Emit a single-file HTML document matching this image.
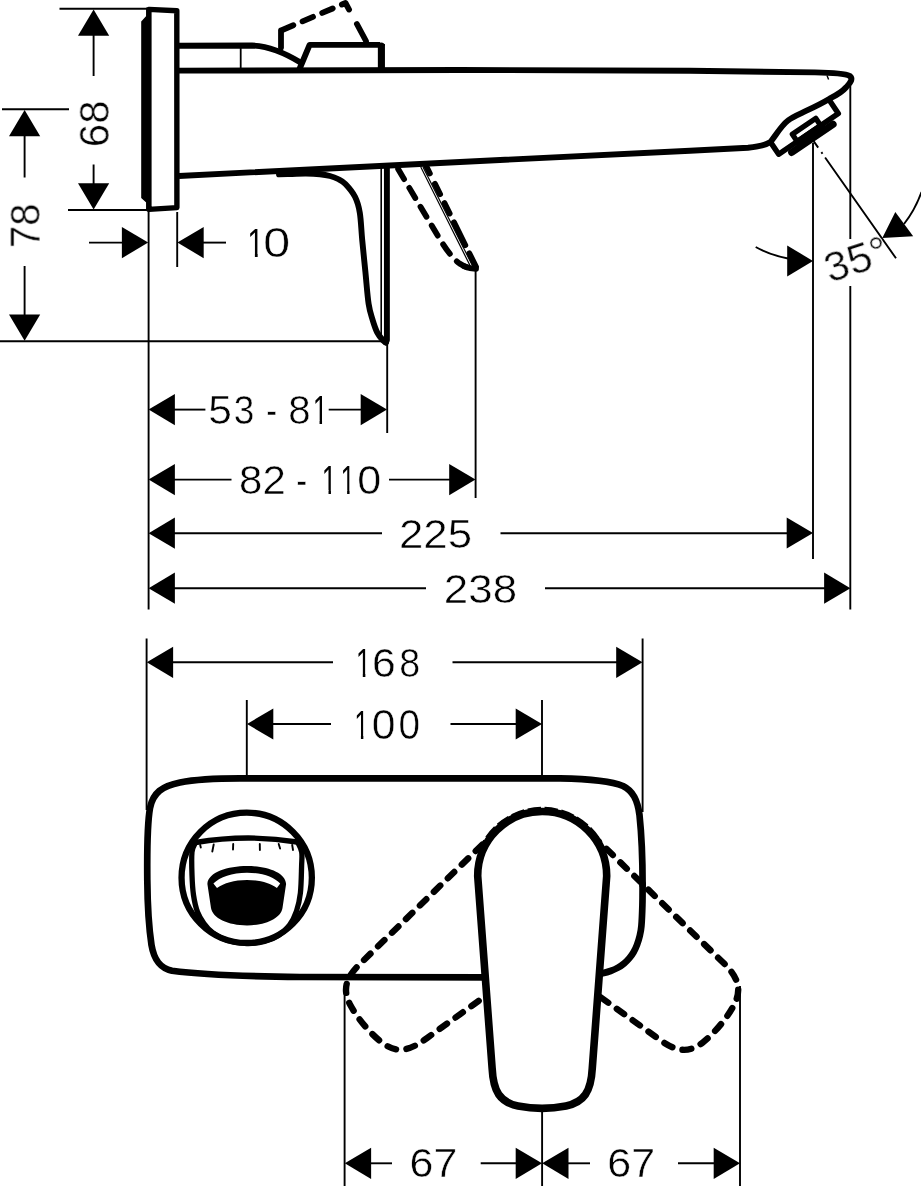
<!DOCTYPE html>
<html><head><meta charset="utf-8"><title>Dimension drawing</title>
<style>
html,body{margin:0;padding:0;background:#fff;}
svg{display:block;}
svg *{fill:none;stroke:#000;}
svg text{font-family:"Liberation Sans",sans-serif;fill:#000;stroke:#fff;}
svg .t{opacity:0.999;}
svg .f{fill:#000;stroke:none;}
svg .w{fill:#fff;stroke:none;}
svg .hw{fill:#fff;stroke:#000;}
</style></head>
<body>
<svg width="921" height="1189" viewBox="0 0 921 1189">
<defs><clipPath id="c1"><polygon points="0,-75 34.2,-75 34.2,2 25.1,2 25.1,-8 0,-8"/></clipPath></defs>
<rect x="0" y="0" width="921" height="1189" style="fill:#fff;stroke:none"/>
<polygon class="f" points="141.2,21.5 146.2,16 146.2,7.5 151,9 151,208 146.2,211 146.2,202.5 141.2,198"/>
<path d="M148.9 9.4 L176.8 10.7 L176.9 207.6 L148.9 209.4 Z" stroke-width="5.4" stroke-linejoin="round"/>
<path d="M179 45.7 L252 45.5 C268 46 285 53 300.5 62.5" stroke-width="5.9" />
<line x1="240.7" y1="47" x2="240.7" y2="69" stroke-width="1.8" />
<path d="M179 70.6 L460 70 L690 70.8 L815 72.4 C832 72.8 845 73.6 849.5 75.8 C853.5 78.5 850.5 83 846.4 87 C843 91 836 95.5 829.6 98.7 C820 104.5 810 109 802 112.8 C795 116 791 118 788 120.5 C782 125 778 132 770.5 142 C765 145.5 757 147 748 147.7 L690 150.7 L460 162 L250 172.4 L179 176" stroke-width="5.9" stroke-linejoin="round"/>
<line x1="827" y1="75.5" x2="828.6" y2="79.5" stroke-width="1.4" />
<path d="M299.5 69 L309.6 44.9 L380 44.9" stroke-width="5.9" stroke-linejoin="round"/>
<path d="M381.4 44 L381.4 70" stroke-width="7.1" />
<path d="M377.8 45 Q378 42.4 381 42.4 Q384.9 42.4 384.95 46 Z" stroke-width="0.1" class="f"/>
<path d="M281 47.5 L281 30.5" stroke-width="5.8" stroke-linecap="round"/>
<path d="M281 30.5 L345.5 3 L350.7 12.6" stroke-width="5.8" stroke-linecap="round" stroke-linejoin="round" stroke-dasharray="11.4 10" stroke-dashoffset="-2"/>
<path d="M356.9 24 L366 41" stroke-width="5.8" stroke-linecap="round"/>
<path d="M279.00 174.40 C281.17 174.33 287.50 174.13 292.00 174.00 C296.50 173.87 301.33 173.55 306.00 173.60 C310.67 173.65 316.00 173.90 320.00 174.30 C324.00 174.70 327.00 175.22 330.00 176.00 C333.00 176.78 335.43 177.67 338.00 179.00 C340.57 180.33 342.57 181.03 345.40 184.00 C348.23 186.97 352.60 192.02 355.00 196.80 C357.40 201.58 358.60 205.52 359.80 212.70 C361.00 219.88 361.27 230.03 362.20 239.90 C363.13 249.77 364.33 261.25 365.40 271.90 C366.47 282.55 367.40 295.82 368.60 303.80 C369.80 311.78 371.15 315.00 372.60 319.80 C374.05 324.60 375.53 329.13 377.30 332.60 C379.07 336.07 381.75 338.97 383.20 340.60 C384.65 342.23 385.53 342.10 386.00 342.40" stroke-width="5.9" stroke-linecap="round"/>
<path d="M386.9 166 L386.9 340 L385.8 342.6" stroke-width="5.9" stroke-linecap="round" stroke-linejoin="round"/>
<line x1="381.2" y1="167" x2="381.2" y2="336" stroke-width="1.6" />
<path d="M397.6 168.2 L440 239.5 C446 249 452 258 459.5 263.5 C465 267 470 268.8 475.5 268.8" stroke-width="5.8" stroke-linecap="round" stroke-dasharray="11.7 10.2" stroke-dashoffset="-1"/>
<path d="M426.3 166.3 L476 266.8" stroke-width="5.8" stroke-linecap="round" stroke-dasharray="8 11.5 11.7 9.8 11.7 9.8 25.5 9 30"/>
<line x1="420.8" y1="167" x2="470.5" y2="266.5" stroke-width="1.2" />
<line x1="423.0" y1="167" x2="472.6" y2="266.0" stroke-width="1.2" />
<path d="M464 266.3 Q470 268.6 476 268.9" stroke-width="5.8" stroke-linecap="round"/>
<path d="M770.5 142.1 L778.7 154.2 L838.3 113.5 L829.6 100.5" stroke-width="5.5" stroke-linejoin="round"/>
<path d="M791.74 152.38 L833.05 124.20" stroke-width="7.2" stroke-linecap="round"/>
<path d="M796.86 140.90 L792.35 134.29 L815.73 118.34 L820.24 124.95" stroke-width="5.3" stroke-linejoin="round"/>
<path d="M795.61 142.96 L822.87 124.37" stroke-width="6" />
<line x1="59.5" y1="8.8" x2="147" y2="8.8" stroke-width="1.9" />
<line x1="68" y1="210" x2="147" y2="210" stroke-width="1.9" />
<polygon class="f" points="93.6,9.5 78.0,35.8 109.2,35.8"/>
<line x1="93.6" y1="35" x2="93.6" y2="76" stroke-width="1.9" />
<polygon class="f" points="93.6,209.5 78.0,183.2 109.2,183.2"/>
<line x1="93.6" y1="164.5" x2="93.6" y2="184" stroke-width="1.9" />
<line x1="2" y1="109.3" x2="69" y2="109.3" stroke-width="1.9" />
<polygon class="f" points="24.6,110.0 9.0,136.3 40.2,136.3"/>
<line x1="24.6" y1="135" x2="24.6" y2="177.5" stroke-width="1.9" />
<polygon class="f" points="24.6,340.8 9.0,314.5 40.2,314.5"/>
<line x1="24.6" y1="266" x2="24.6" y2="316" stroke-width="1.9" />
<line x1="0" y1="341.3" x2="385" y2="341.3" stroke-width="1.9" />
<line x1="148.6" y1="211" x2="148.6" y2="609.5" stroke-width="1.9" />
<line x1="177.2" y1="212" x2="177.2" y2="267" stroke-width="1.9" />
<polygon class="f" points="148.2,242.6 121.9,227.0 121.9,258.2"/>
<line x1="89" y1="242.6" x2="123" y2="242.6" stroke-width="1.9" />
<polygon class="f" points="177.4,242.6 203.7,227.0 203.7,258.2"/>
<line x1="203" y1="242.6" x2="226" y2="242.6" stroke-width="1.9" />
<polygon class="f" points="148.6,409.6 174.9,394.0 174.9,425.2"/>
<line x1="174" y1="409.6" x2="205.4" y2="409.6" stroke-width="1.9" />
<polygon class="f" points="387.0,409.6 360.7,394.0 360.7,425.2"/>
<line x1="328.7" y1="409.6" x2="362" y2="409.6" stroke-width="1.9" />
<line x1="387.2" y1="343" x2="387.2" y2="433" stroke-width="1.9" />
<polygon class="f" points="148.6,479.6 174.9,464.0 174.9,495.2"/>
<line x1="174" y1="479.6" x2="231.5" y2="479.6" stroke-width="1.9" />
<polygon class="f" points="475.5,479.6 449.2,464.0 449.2,495.2"/>
<line x1="389" y1="479.6" x2="450" y2="479.6" stroke-width="1.9" />
<line x1="475.6" y1="270" x2="475.6" y2="498" stroke-width="1.9" />
<polygon class="f" points="148.6,533.2 174.9,517.6 174.9,548.8"/>
<line x1="174" y1="533.2" x2="382" y2="533.2" stroke-width="1.9" />
<polygon class="f" points="813.0,533.0 786.7,517.4 786.7,548.6"/>
<line x1="500.5" y1="533.2" x2="788" y2="533.2" stroke-width="1.9" />
<line x1="813" y1="143" x2="813" y2="559" stroke-width="1.9" />
<polygon class="f" points="148.6,588.2 174.9,572.6 174.9,603.8"/>
<line x1="174" y1="588.2" x2="426" y2="588.2" stroke-width="1.9" />
<polygon class="f" points="850.4,588.2 824.1,572.6 824.1,603.8"/>
<line x1="545" y1="588.2" x2="825" y2="588.2" stroke-width="1.9" />
<line x1="850.3" y1="86" x2="850.3" y2="239" stroke-width="1.9" />
<line x1="850.3" y1="286" x2="850.3" y2="609.5" stroke-width="1.9" />
<path d="M813.6 141.1 L896 258.3" stroke-width="1.9" stroke-dasharray="8 5.5 2 4.5 1000"/>
<polygon class="f" points="882.3,238 895.3,212 913.2,236.3"/>
<path d="M904 224 Q915 210 921.5 192" stroke-width="1.9" />
<polygon class="f" points="813,260.9 787.2,245.6 787.2,276.4"/>
<path d="M755.7 247 Q770 255 788 258.5" stroke-width="1.9" />
<path d="M147.3 880 C147 850 147 825 150 808 C153 793 162 786 180 782.5 C195 779.5 215 778.4 240 778.4 L560 778.4 C590 779 611 781 623 786 C633 791 637.5 800 639.5 815 C641.6 835 642.6 860 642.6 885 M487 977.3 L300 977 C250 976.5 200 974.5 172 970.8 C160 968 154 960 151.5 945 C148.5 925 147.5 905 147.3 880" stroke-width="6.7" stroke-linecap="round"/>
<path d="M642.60 884.00 C642.57 887.50 642.60 898.00 642.40 905.00 C642.20 912.00 641.85 920.83 641.40 926.00 C640.95 931.17 640.43 932.85 639.70 936.00 C638.97 939.15 638.00 942.23 637.00 944.90 C636.00 947.57 634.97 949.80 633.70 952.00 C632.43 954.20 630.98 956.22 629.40 958.10 C627.82 959.98 626.10 961.72 624.20 963.30 C622.30 964.88 620.28 966.32 618.00 967.60 C615.72 968.88 613.05 970.05 610.50 971.00 C607.95 971.95 604.95 972.75 602.70 973.30 C600.45 973.85 597.95 974.13 597.00 974.30" stroke-width="6.7" stroke-linecap="round"/>
<circle cx="246.7" cy="877.8" r="65.15" stroke-width="6.3"/>
<path d="M195.6 842.5 Q247 833.8 297.2 842" stroke-width="5.4" stroke-linecap="round"/>
<path d="M195.30 843.00 C194.75 844.50 192.55 846.67 192.00 852.00 C191.45 857.33 191.75 867.83 192.00 875.00 C192.25 882.17 192.58 888.83 193.50 895.00 C194.42 901.17 195.75 907.25 197.50 912.00 C199.25 916.75 201.42 920.00 204.00 923.50 C206.58 927.00 209.08 930.17 213.00 933.00 C216.92 935.83 221.88 938.75 227.50 940.50 C233.12 942.25 240.53 943.33 246.70 943.50 C252.87 943.67 259.20 942.83 264.50 941.50 C269.80 940.17 274.33 938.25 278.50 935.50 C282.67 932.75 286.50 929.08 289.50 925.00 C292.50 920.92 294.68 916.33 296.50 911.00 C298.32 905.67 299.55 900.50 300.40 893.00 C301.25 885.50 301.38 872.83 301.60 866.00 C301.82 859.17 302.30 855.83 301.70 852.00 C301.10 848.17 298.62 844.50 298.00 843.00" stroke-width="5.3" stroke-linecap="round"/>
<line x1="213.7" y1="844.5" x2="212.3" y2="851.5" stroke-width="1.9" stroke-linecap="round"/>
<line x1="233.2" y1="844" x2="233" y2="849.5" stroke-width="1.9" stroke-linecap="round"/>
<line x1="259.8" y1="844" x2="259.9" y2="850" stroke-width="1.9" stroke-linecap="round"/>
<line x1="278.7" y1="844" x2="280.1" y2="848.5" stroke-width="1.9" stroke-linecap="round"/>
<line x1="292.2" y1="845" x2="293" y2="850" stroke-width="1.9" stroke-linecap="round"/>
<line x1="200.2" y1="845" x2="200.8" y2="847.5" stroke-width="1.9" stroke-linecap="round"/>
<path class="f" d="M207.4 884 C208 872 228 866 247 866 C266 866 285.5 872 286.1 884 L282.5 908 C281 918 266 925.4 247 925.4 C228 925.4 212.5 918 211 908 Z"/>
<path class="w" d="M213.4 883.5 C220 877 232 872.7 247 872.7 C262 872.7 274 877 280.2 883.5 L276.9 888 C270 883 260 880 247 880 C234 880 224 883 217 888 Z"/>
<path d="M477.7 876 A64.5 64.5 0 0 1 606.7 876 L592.3 1068 C591 1092 584 1102 566 1106 C551 1109 533 1109 518 1106 C500 1102 493.3 1092 492.1 1068 Z" stroke-width="6.4" stroke-linecap="round" stroke-dasharray="9 10.5" transform="rotate(50 542.2 876)"/>
<path d="M477.7 876 A64.5 64.5 0 0 1 606.7 876 L592.3 1068 C591 1092 584 1102 566 1106 C551 1109 533 1109 518 1106 C500 1102 493.3 1092 492.1 1068 Z" stroke-width="6.4" stroke-linecap="round" stroke-dasharray="9 10.5" transform="rotate(-50 542.2 876)"/>
<path d="M477.7 876 A64.5 64.5 0 0 1 606.7 876 L592.3 1068 C591 1092 584 1102 566 1106 C551 1109 533 1109 518 1106 C500 1102 493.3 1092 492.1 1068 Z" stroke-width="7.6" class="hw" stroke-linejoin="round"/>
<path d="M480.3 853 A66 66 0 0 1 604.1 853" stroke-width="6.2" stroke-dasharray="13 3.5"/>
<line x1="146.6" y1="638.5" x2="146.6" y2="810" stroke-width="1.9" />
<line x1="642.6" y1="638.5" x2="642.6" y2="812" stroke-width="1.9" />
<polygon class="f" points="146.8,662.3 173.1,646.7 173.1,677.9"/>
<line x1="172" y1="662.3" x2="333" y2="662.3" stroke-width="1.9" />
<polygon class="f" points="642.5,662.3 616.2,646.7 616.2,677.9"/>
<line x1="452.5" y1="662.3" x2="617" y2="662.3" stroke-width="1.9" />
<line x1="246.8" y1="700" x2="246.8" y2="776" stroke-width="1.9" />
<line x1="542" y1="700" x2="542" y2="776" stroke-width="1.9" />
<polygon class="f" points="247.0,724.0 273.3,708.4 273.3,739.6"/>
<line x1="272" y1="724" x2="331" y2="724" stroke-width="1.9" />
<polygon class="f" points="542.0,724.0 515.7,708.4 515.7,739.6"/>
<line x1="450.5" y1="724" x2="517" y2="724" stroke-width="1.9" />
<line x1="344.6" y1="986" x2="344.6" y2="1186" stroke-width="1.9" />
<line x1="542.1" y1="1111" x2="542.1" y2="1186" stroke-width="1.9" />
<line x1="740" y1="986" x2="740" y2="1186" stroke-width="1.9" />
<polygon class="f" points="344.8,1163.3 371.1,1147.7 371.1,1178.9"/>
<line x1="370" y1="1163.3" x2="392" y2="1163.3" stroke-width="1.9" />
<polygon class="f" points="542.0,1163.3 515.7,1147.7 515.7,1178.9"/>
<line x1="480.7" y1="1163.3" x2="516" y2="1163.3" stroke-width="1.9" />
<polygon class="f" points="542.2,1163.3 568.5,1147.7 568.5,1178.9"/>
<line x1="568" y1="1163.3" x2="590" y2="1163.3" stroke-width="1.9" />
<polygon class="f" points="740.0,1163.3 713.7,1147.7 713.7,1178.9"/>
<line x1="678" y1="1163.3" x2="714.5" y2="1163.3" stroke-width="1.9" />
<g class="t">
<text font-size="100" stroke-width="0" clip-path="url(#c1)" transform="translate(247.21 257.30) scale(0.3057 0.4131)">1</text>
<text font-size="100" stroke-width="1.11" transform="translate(263.21 257.43) scale(0.4838 0.4170)">0</text>
<text font-size="100" stroke-width="1.19" transform="translate(208.15 424.14) scale(0.4253 0.4143)">5</text>
<text font-size="100" stroke-width="1.28" transform="translate(233.76 424.14) scale(0.3705 0.4085)">3</text>
<text font-size="100" stroke-width="1.23" transform="translate(288.14 424.14) scale(0.4021 0.4085)">8</text>
<text font-size="100" stroke-width="0" clip-path="url(#c1)" transform="translate(312.63 424.00) scale(0.2755 0.4044)">1</text>
<text font-size="100" stroke-width="1.33" transform="translate(266.28 425.34) scale(0.3258 0.4258)">-</text>
<text font-size="100" stroke-width="1.20" transform="translate(239.07 493.74) scale(0.4197 0.4113)">82</text>
<text font-size="100" stroke-width="1.32" transform="translate(296.27 494.74) scale(0.3299 0.4258)">-</text>
<text font-size="100" stroke-width="0" clip-path="url(#c1)" transform="translate(321.79 493.60) scale(0.2679 0.4073)">1</text>
<text font-size="100" stroke-width="0" clip-path="url(#c1)" transform="translate(340.39 493.60) scale(0.2679 0.4073)">1</text>
<text font-size="100" stroke-width="1.19" transform="translate(357.22 493.74) scale(0.4314 0.4113)">0</text>
<text font-size="100" stroke-width="1.19" transform="translate(398.96 547.54) scale(0.4380 0.4057)">225</text>
<text font-size="100" stroke-width="1.18" transform="translate(443.86 602.84) scale(0.4387 0.4057)">238</text>
<text font-size="100" stroke-width="0" clip-path="url(#c1)" transform="translate(355.68 677.20) scale(0.2830 0.4087)">1</text>
<text font-size="100" stroke-width="1.19" transform="translate(371.92 677.34) scale(0.4259 0.4127)">6</text>
<text font-size="100" stroke-width="1.27" transform="translate(399.15 677.34) scale(0.3766 0.4127)">8</text>
<text font-size="100" stroke-width="0" clip-path="url(#c1)" transform="translate(354.19 738.90) scale(0.2679 0.4131)">1</text>
<text font-size="100" stroke-width="1.18" transform="translate(371.64 739.03) scale(0.4272 0.4170)">0</text>
<text font-size="100" stroke-width="1.24" transform="translate(398.40 739.03) scale(0.3874 0.4170)">0</text>
<text font-size="100" stroke-width="1.18" transform="translate(409.61 1177.03) scale(0.4287 0.4155)">67</text>
<text font-size="100" stroke-width="1.18" transform="translate(607.30 1177.03) scale(0.4297 0.4155)">67</text>
<text font-size="100" stroke-width="1.19" transform="translate(108.53 147.15) rotate(-90) scale(0.4206 0.4212)">68</text>
<text font-size="100" stroke-width="1.21" transform="translate(39.53 247.96) rotate(-90) scale(0.4010 0.4226)">78</text>
<text font-size="43" stroke-width="0.6" transform="translate(829.8 283.3) rotate(-18)">35°</text>
</g>
</svg>
</body></html>
